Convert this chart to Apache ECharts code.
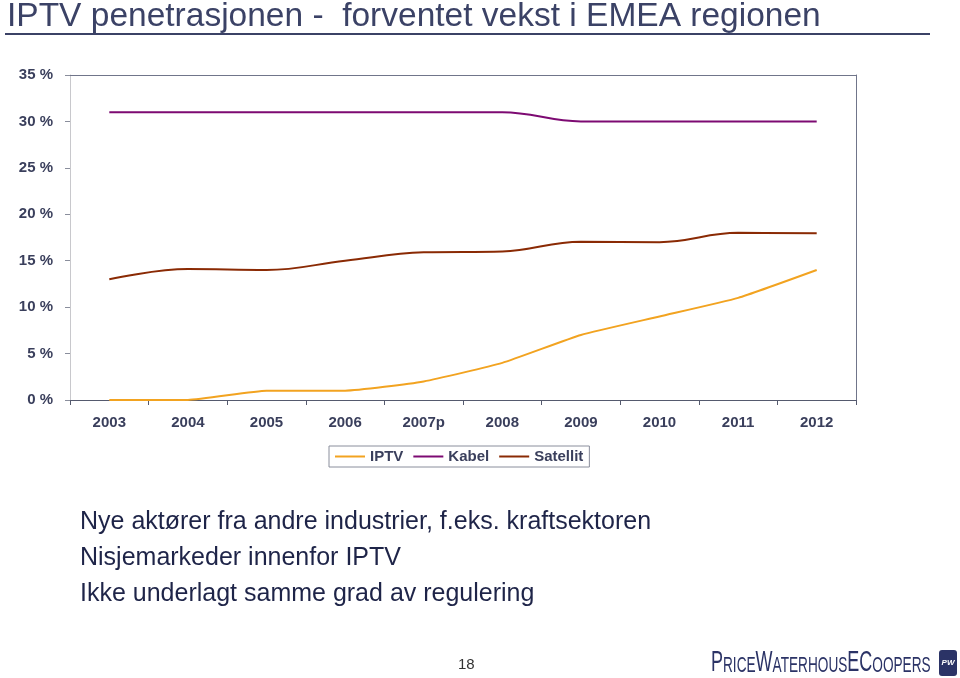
<!DOCTYPE html>
<html><head><meta charset="utf-8">
<script src="https://cdn.jsdelivr.net/npm/echarts@6/dist/echarts.min.js"></script>
<style>html,body{margin:0;padding:0;background:#fff}#c{width:960px;height:678px}</style>
</head><body><div id="c"></div>
<script>
const categories = ['2003','2004','2005','2006','2007p','2008','2009','2010','2011','2012'];
const iptv = [0, 0, 1, 1, 2, 4, 7, 9, 11, 14];
const kabel = [31, 31, 31, 31, 31, 31, 30, 30, 30, 30];
const satellit = [13, 14.1, 14, 15, 15.9, 16, 17.05, 17, 18, 17.95];
const yTicks = [0, 5, 10, 15, 20, 25, 30, 35];
const bullets = ['Nye aktører fra andre industrier, f.eks. kraftsektoren','Nisjemarkeder innenfor IPTV','Ikke underlagt samme grad av regulering'];

const navy = '#3a3f5c';
const chart = echarts.init(document.getElementById('c'), null, {renderer:'canvas'});
const lbl = {color: navy, fontFamily: 'Liberation Sans, Arial', fontWeight: 'bold', fontSize: 15};
const frame = '#70758a';
chart.setOption({
  animation: false,
  backgroundColor: '#fff',
  grid: {left: 70, right: 104, top: 75, bottom: 278},
  xAxis: [{
    type: 'category', data: categories, boundaryGap: true,
    axisLine: {lineStyle: {color: '#555a6e', width: 1}},
    axisTick: {show: true, length: 5, lineStyle: {color: '#555a6e'}},
    axisLabel: Object.assign({margin: 15}, lbl)
  }, {
    type: 'category', data: categories, position: 'top',
    axisLine: {show: true, onZero: false, lineStyle: {color: frame}},
    axisTick: {show: false}, axisLabel: {show: false}
  }],
  yAxis: [{
    type: 'value', min: yTicks[0], max: yTicks[yTicks.length-1], interval: 5,
    axisLine: {show: true, lineStyle: {color: '#c8c8cc'}},
    axisTick: {show: true, length: 5, lineStyle: {color: '#8a8e9c'}},
    splitLine: {show: false},
    axisLabel: Object.assign({margin: 17, formatter: '{value} %'}, lbl)
  }, {
    type: 'value', min: yTicks[0], max: yTicks[yTicks.length-1], interval: 5, position: 'right',
    axisLine: {show: true, onZero: false, lineStyle: {color: frame}},
    axisTick: {show: false}, axisLabel: {show: false}, splitLine: {show: false}
  }],
  legend: {
    left: 329, top: 446, padding: [3, 6, 3, 6],
    borderColor: '#8a8e9c', borderWidth: 1,
    itemWidth: 30, itemHeight: 2, itemGap: 10, icon: 'rect',
    textStyle: lbl,
    data: ['IPTV', 'Kabel', 'Satellit']
  },
  series: [
    {name: 'IPTV', type: 'line', data: iptv, smooth: 0.15, showSymbol: false, symbol: 'none',
     lineStyle: {color: '#f2a320', width: 2}, itemStyle: {color: '#f2a320'}},
    {name: 'Kabel', type: 'line', data: kabel, smooth: 0.4, showSymbol: false, symbol: 'none',
     lineStyle: {color: '#7d0a72', width: 2}, itemStyle: {color: '#7d0a72'}},
    {name: 'Satellit', type: 'line', data: satellit, smooth: 0.4, showSymbol: false, symbol: 'none',
     lineStyle: {color: '#8a2a04', width: 2}, itemStyle: {color: '#8a2a04'}}
  ],
  graphic: [
    {type: 'text', x: 7, y: 17, style: {text: 'IPTV penetrasjonen -  forventet vekst i EMEA regionen', fill: '#3b4266', font: '33.5px "Liberation Sans", Arial', verticalAlign: 'middle'}},
    {type: 'rect', shape: {x: 5, y: 33, width: 925, height: 2}, style: {fill: '#3b4266'}},
    {type: 'text', x: 80, y: 522, style: {text: bullets[0], fill: '#1e2448', font: '25px "Liberation Sans", Arial', verticalAlign: 'middle'}},
    {type: 'text', x: 80, y: 558, style: {text: bullets[1], fill: '#1e2448', font: '25px "Liberation Sans", Arial', verticalAlign: 'middle'}},
    {type: 'text', x: 80, y: 594, style: {text: bullets[2], fill: '#1e2448', font: '25px "Liberation Sans", Arial', verticalAlign: 'middle'}},
    {type: 'text', x: 458, y: 665, style: {text: '18', fill: '#333', font: '15px "Liberation Sans", Arial', verticalAlign: 'middle'}},
    {type: 'text', x: 711, y: 677, scaleX: 0.62, originX: 0, originY: 0, style: {
      text: '{b|P}{s|RICE}{b|W}{s|ATERHOUS}{b|E}{b|C}{s|OOPERS}', fill: '#2b3366', verticalAlign: 'bottom',
      rich: {b: {fontSize: 29, fontFamily: 'Liberation Sans', fill: '#2b3366', verticalAlign: 'bottom'},
             s: {fontSize: 22, fontFamily: 'Liberation Sans', fill: '#2b3366', verticalAlign: 'bottom'}}}},
    {type: 'rect', shape: {x: 939, y: 650, width: 18, height: 26, r: 3}, style: {fill: '#2b3366'}},
    {type: 'text', x: 948, y: 663, style: {text: 'PW', fill: '#fff', font: 'italic bold 8px "Liberation Sans", Arial', align: 'center', verticalAlign: 'middle'}}
  ]
});
</script></body></html>
